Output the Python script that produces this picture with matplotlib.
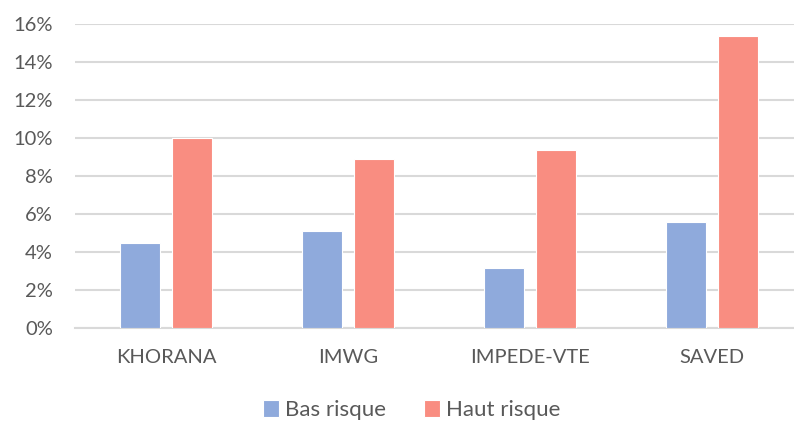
"""Grouped bar chart: VTE rate by risk score and risk group."""

import numpy as np
import matplotlib.pyplot as plt
from matplotlib.ticker import PercentFormatter

scores = ["KHORANA", "IMWG", "IMPEDE-VTE", "SAVED"]
bas_risque = [4.5, 5.1, 3.2, 5.6]
haut_risque = [10.0, 8.9, 9.4, 15.4]
y_ticks = [0, 2, 4, 6, 8, 10, 12, 14, 16]

BLUE = "#8FAADC"
RED = "#F98D81"
TEXT = "#595959"
GRID = "#D9D9D9"


def main() -> None:
    plt.rcParams["font.family"] = ["Lato", "DejaVu Sans"]

    fig = plt.figure(figsize=(7.94, 4.21), dpi=100)
    W, H = 794, 421
    left, right, top, bottom = 75, 803, 24.3, 328.3
    ax = fig.add_axes([left / W, 1 - bottom / H, (right - left) / W, (bottom - top) / H])

    x = np.arange(len(scores))
    width = 0.22
    offset = 0.143
    ax.bar(x - offset, bas_risque, width, color=BLUE, edgecolor="white",
           linewidth=0.8, label="Bas risque", zorder=3)
    ax.bar(x + offset, haut_risque, width, color=RED, edgecolor="white",
           linewidth=0.8, label="Haut risque", zorder=3)

    ax.set_xlim(-0.5, len(scores) - 0.5)
    ax.set_ylim(0, 16)
    ax.set_yticks(y_ticks)
    ax.yaxis.set_major_formatter(PercentFormatter(decimals=0))
    ax.set_xticks(x)
    ax.set_xticklabels(scores)

    ax.grid(axis="y", color=GRID, linewidth=1.5, zorder=0)
    for side in ("top", "right", "left"):
        ax.spines[side].set_visible(False)
    ax.spines["bottom"].set_color(GRID)
    ax.spines["bottom"].set_linewidth(1.5)
    ax.tick_params(axis="both", length=0, colors=TEXT, labelsize=14.5)
    ax.tick_params(axis="y", pad=16)
    ax.tick_params(axis="x", pad=15)

    fig.legend(loc="center", bbox_to_anchor=(412 / W, 1 - 410 / H), ncol=2,
               frameon=False, fontsize=16, labelcolor=TEXT, handlelength=0.7,
               handleheight=0.8, handletextpad=0.3, columnspacing=1.7)

    fig.savefig("out.png", dpi=100)
    plt.close(fig)


if __name__ == "__main__":
    main()
